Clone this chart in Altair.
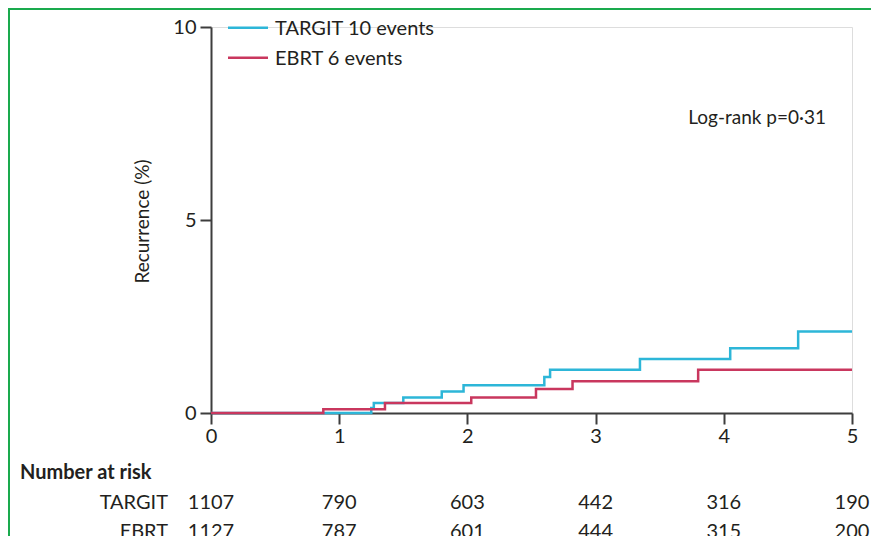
import altair as alt
import pandas as pd

# ---- data ----
groups = ["TARGIT", "EBRT"]
legend_labels = ["TARGIT 10 events", "EBRT 6 events"]
colors = ["#2db6d8", "#c9375e"]

targit_time = [0, 1.25, 1.27, 1.50, 1.80, 1.97, 2.60, 2.645, 3.346, 4.05, 4.58, 5.0]
targit_pct = [0, 0.13, 0.26, 0.40, 0.56, 0.72, 0.93, 1.12, 1.40, 1.68, 2.11, 2.11]
ebrt_time = [0, 0.876, 1.357, 2.03, 2.535, 2.82, 3.80, 5.0]
ebrt_pct = [0, 0.10, 0.26, 0.40, 0.62, 0.82, 1.12, 1.12]

risk_years = [0, 1, 2, 3, 4, 5]
targit_risk = [1107, 790, 603, 442, 316, 190]
ebrt_risk = [1127, 787, 601, 444, 315, 200]

x_ticks = [0, 1, 2, 3, 4, 5]
y_ticks = [0, 5, 10]
pvalue_text = "Log-rank p=0·31"

FONT = "Lato"
TEXT = "#231f20"
AXIS = "#3d3d3d"

targit_df = pd.DataFrame({"time": targit_time, "pct": targit_pct, "group": "TARGIT"})
ebrt_df = pd.DataFrame({"time": ebrt_time, "pct": ebrt_pct, "group": "EBRT"})
risk_df = pd.DataFrame({"time": risk_years, "TARGIT": targit_risk, "EBRT": ebrt_risk})

W, H = 641, 386

x_enc = alt.X(
    "time:Q",
    scale=alt.Scale(domain=[0, 5], nice=False, zero=False),
    axis=alt.Axis(values=x_ticks, title=None, grid=False, domainColor=AXIS, domainWidth=2,
                  tickColor=AXIS, tickWidth=2, tickSize=11, labelFontSize=20,
                  labelColor=TEXT, labelPadding=2, labelFont=FONT, format="d",
                  labelFlush=False, labelOverlap=False),
)
y_enc = alt.Y(
    "pct:Q",
    scale=alt.Scale(domain=[0, 10], nice=False),
    axis=alt.Axis(values=y_ticks, title="Recurrence (%)", grid=False, domainColor=AXIS,
                  domainWidth=2, tickColor=AXIS, tickWidth=2, tickSize=11, labelFontSize=20,
                  labelColor=TEXT, labelPadding=4, labelFont=FONT, titleFont=FONT,
                  titleFontSize=19, titleFontWeight="normal", titleColor=TEXT,
                  titleX=-69, titleY=194, titleAngle=270, titleAlign="center",
                  titleBaseline="middle", format="d", labelFlush=False),
)
color_enc = alt.Color("group:N", scale=alt.Scale(domain=groups, range=colors), legend=None)

blue = alt.Chart(targit_df).mark_line(interpolate="step-after", strokeWidth=2.5).encode(
    x=x_enc, y=y_enc, color=color_enc)
red = alt.Chart(ebrt_df).mark_line(interpolate="step-after", strokeWidth=2.5).encode(
    x=x_enc, y=y_enc, color=color_enc)

one = pd.DataFrame({"a": [0]})
layers = [blue, red]

# legend (manual)
for i, (g, lab, c) in enumerate(zip(groups, legend_labels, colors)):
    yy = 0.7 + 30 * i
    layers.append(alt.Chart(one).mark_rule(color=c, strokeWidth=2.5).encode(
        x=alt.value(17), x2=alt.value(57), y=alt.value(yy)))
    layers.append(alt.Chart(one).mark_text(align="left", baseline="middle", fontSize=20,
                                           font=FONT, color=TEXT).encode(
        x=alt.value(64), y=alt.value(yy + 1), text=alt.value(lab)))

# p-value
layers.append(alt.Chart(one).mark_text(align="right", baseline="middle", fontSize=19,
                                       font=FONT, color=TEXT).encode(
    x=alt.value(615), y=alt.value(91), text=alt.value(pvalue_text)))

# number at risk table
layers.append(alt.Chart(one).mark_text(align="left", baseline="middle", fontSize=20,
                                       font=FONT, fontWeight="bold", color=TEXT).encode(
    x=alt.value(-191), y=alt.value(446), text=alt.value("Number at risk")))
for j, g in enumerate(groups):
    yy = 476 + 29 * j
    layers.append(alt.Chart(one).mark_text(align="right", baseline="middle", fontSize=20,
                                           font=FONT, color=TEXT).encode(
        x=alt.value(-43), y=alt.value(yy), text=alt.value(g)))
    layers.append(alt.Chart(risk_df).mark_text(align="center", baseline="middle", fontSize=20,
                                               font=FONT, color=TEXT).encode(
        x=alt.X("time:Q"), y=alt.value(yy), text=alt.Text(f"{g}:Q", format="d")))

# green frame
FRAME = "#1aaa4e"
layers.append(alt.Chart(one).mark_rule(color=FRAME, strokeWidth=2).encode(
    x=alt.value(-203), x2=alt.value(660), y=alt.value(-18)))
layers.append(alt.Chart(one).mark_rule(color=FRAME, strokeWidth=2).encode(
    x=alt.value(-202), y=alt.value(-19), y2=alt.value(520)))

chart = alt.layer(*layers).properties(
    width=W, height=H,
    autosize=alt.AutoSizeParams(type="none"),
    padding={"left": 203, "top": 19, "right": 20, "bottom": 123},
).configure_view(stroke=None).configure(font=FONT)

chart.save("out.html", embed_options={"renderer": "svg", "actions": False})
